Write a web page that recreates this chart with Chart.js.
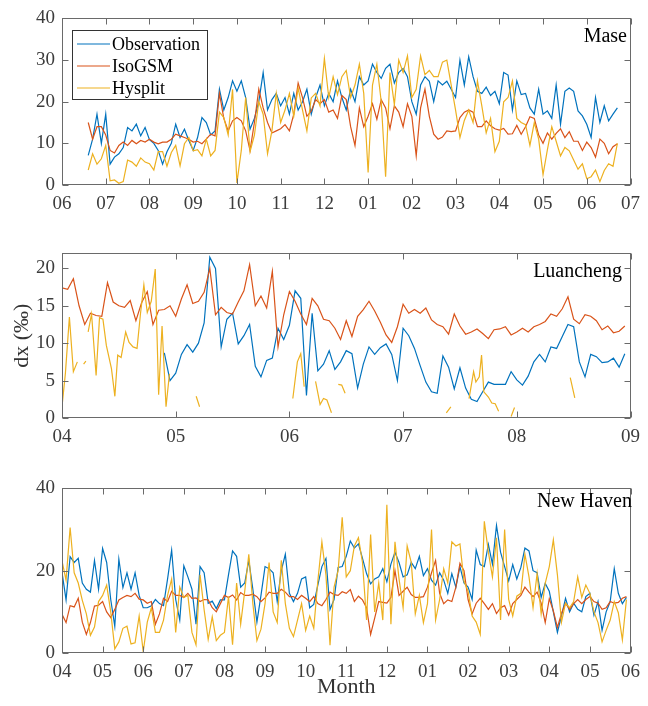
<!DOCTYPE html>
<html>
<head>
<meta charset="utf-8">
<script src="https://cdn.jsdelivr.net/npm/chart.js@4.4.0/dist/chart.umd.min.js"></script>
<style>
  body { margin: 0; background: #fff; }
  #wrap { position: relative; width: 648px; height: 706px; }
  canvas { position: absolute; left: 0; }
</style>
</head>
<body>
<div id="wrap">
  <canvas id="mase" width="648" height="230" style="top:0px"></canvas>
  <canvas id="luan" width="648" height="215" style="top:235px"></canvas>
  <canvas id="newhaven" width="648" height="236" style="top:470px"></canvas>
</div>
<script>
// Mase: one value every ~3 days (0.1 month), starting mid-June
const maseMonths = ['06','07','08','09','10','11','12','01','02','03','04','05','06','07'];
const maseStart = 0.6;
const maseObs = [
  7.1, 11, 17, 10, 17, 5, 6.7, 7.5, 9, 13.8,
  13, 14.6, 11.8, 13.8, 10.9, 10, 8.3, 5, 8, 10,
  14.6, 11.4, 13.4, 10.7, 8.3, 11.4, 16.2, 15, 12, 13,
  23, 18, 21, 25, 22.5, 25, 21, 13.4, 16, 20,
  27, 18, 20.5, 22, 19, 21, 17, 22, 18, 20,
  23, 17, 21, 24, 19, 22, 20, 25, 21, 18,
  23, 20, 26, 24, 25, 29, 27, 25.6, 28, 29,
  24.5, 27, 28, 26, 20, 17, 24, 26, 24.9, 20,
  25, 24, 24.9, 23, 21, 30, 24, 30.8, 26, 22.5,
  22, 23.5, 21.5, 22.5, 19.5, 27, 26.4, 18, 25, 21.7,
  22, 18.5, 17, 23, 17, 17.8, 16, 24, 14.6, 22.5,
  23.3, 22.5, 17.8, 16.6, 14.6, 11.4, 21, 15, 19, 15.4,
  17, 18.5
];
const maseIso = [
  15, 11, 14, 14, 12, 8.3, 7.7, 9.5, 10.3, 9.5,
  10.7, 9.9, 10.7, 10.3, 11, 10.3, 9.9, 10.3, 10.3, 11,
  12.2, 11.8, 11.4, 11, 10.3, 10.5, 9.9, 11, 12.2, 11.8,
  22, 16, 13, 15.4, 16.2, 15.4, 13, 8.3, 15, 23,
  18.5, 15, 12.5, 13, 13.5, 14.5, 13, 17, 24.5, 21,
  16.5, 17.8, 20.5, 19.5, 20.5, 17.5, 18, 16, 21.5, 20.5,
  14, 9.5, 18.5, 14, 16.5, 19.5, 15.8, 20.5, 18.5, 13.5,
  19, 17.5, 14, 19.5, 16.5, 7, 18.5, 23, 16.5, 12.2,
  11, 11.5, 13, 12.8, 13, 16.2, 17.5, 18, 17.5, 14,
  14, 15.4, 14.2, 13.5, 13.2, 13.6, 12.2, 12.3, 14.3, 12.2,
  14, 16.4, 16, 12, 10, 12.5, 11, 12.4, 13.5, 11.4,
  12.8, 10.5, 10.5, 8.3, 10.3, 9, 6.7, 11, 10, 7.5,
  9.2, 9.9
];
const maseHys = [
  3.6, 7.5, 5, 6.3, 9.5, 1, 1.2, 0.4, 0.8, 6,
  5.5, 4.5, 6.5, 5.5, 5.1, 3.6, 8, 8, 4.5, 7.8,
  9.5, 4.6, 9.9, 11.4, 8.2, 8.5, 7, 11, 7, 8.3,
  17.5, 16.2, 12, 23, 0.5, 8.3, 21, 8, 12, 20,
  17, 7.5, 13, 22, 15, 18, 22, 16.5, 23.3, 18,
  13, 20.9, 22, 19, 30.4, 21, 26, 21.7, 26, 27.5,
  21, 24, 29, 22, 3, 24, 29, 20, 2, 27,
  19.3, 30, 27, 31, 21, 23, 31, 26.5, 27.5, 26,
  26, 29.5, 30, 24, 18, 11.4, 15.5, 18, 15, 25,
  19, 12.5, 16, 8, 10.5, 20, 21, 25, 16, 15,
  14.5, 9.5, 15, 11, 2.5, 8.5, 14, 10.5, 7, 9,
  8.2, 6, 3.8, 5.1, 1.5, 2, 3.6, 0.8, 3.5, 5.1,
  4.5, 10
];

// Luancheng: one value every 0.05 month from 1 April
const lcMonths = ['04','05','06','07','08','09'];
const lcIso = [
  17.4, 17.2, 18.6, 15, 12.5, 14, 13.7, 13.6, 18.1, 15.5,
  15, 14.8, 15.7, 13, 15.4, 16.9, 12.5, 14.4, 14.5, 15,
  13.6, 15.9, 17.8, 15.3, 15.6, 16.8, 20, 13.8, 14.8, 14.1,
  13.9, 15.5, 17, 20.5, 15, 16.3, 14.7, 19.6, 9.5, 13.8,
  16.9, 15.6, 13.9, 12.5, 16, 15, 13.2, 13, 12, 10.5,
  13, 10.9, 13.6, 14.5, 15.6, 14.3, 12.8, 11.1, 10.1, 12.2,
  15.2, 14, 14.5, 14, 14.7, 13.1, 12.5, 12.2, 11.2, 13.9,
  12.3, 11.2, 11.5, 11.9, 11.3, 10.6, 11.8, 11.9, 12.2, 11.1,
  11.5, 12, 11.5, 12.2, 12.5, 12.9, 13.9, 13.6, 14.6, 16.2,
  13.2, 12.6, 13.8, 13.6, 13, 11.8, 12.3, 11.4, 11.6, 12.3
];
const lcObsStart = 0.9;
const lcObs = [
  8.7, 5, 6, 8.5, 9.8, 8.8, 10, 12.7, 21.5, 20,
  9.5, 13.2, 14, 9.9, 11, 12.5, 6.9, 5.5, 7.7, 8,
  12, 10.5, 12.4, 17, 16, 3, 14, 6.3, 7.2, 9,
  6.5, 7.5, 9, 8.6, 4, 7.2, 9.5, 8.5, 9.4, 9.9,
  8.5, 5, 12, 11, 9.3, 7, 4.8, 3.5, 3.3, 8.3,
  6.8, 3.9, 6.7, 4, 2.5, 2.2, 3.5, 4.8, 4.5, 4.5,
  4.5, 6.2, 5.1, 4.4, 5.6, 7.5, 8.5, 7.5, 9.5, 9.3,
  10.9, 12.5, 12.2, 7.5, 5.5, 8.5, 8.2, 7.4, 7.5, 8,
  6.8, 8.6
];
// Hysplit has gaps (null) in Luancheng
const lcHysAt = [
  0, 0.03, 0.065, 0.1, 0.135, 0.16, 0.19, 0.21, 0.22, 0.23,
  0.26, 0.30, 0.33, 0.36, 0.39, 0.435, 0.465, 0.49, 0.52, 0.56,
  0.59, 0.625, 0.66, 0.69, 0.72, 0.75, 0.785, 0.82, 0.85, 0.88,
  0.915, 0.945, 1.0, 1.18, 1.21, 1.5, 2.03, 2.07, 2.10, 2.13,
  2.18, 2.23, 2.27, 2.30, 2.33, 2.37, 2.40, 2.43, 2.46, 2.49,
  3.0, 3.38, 3.42, 3.5, 3.58, 3.62, 3.64, 3.67, 3.69, 3.71,
  3.75, 3.78, 3.81, 3.84, 3.9, 3.95, 3.98, 4.2, 4.47, 4.51
];
const lcHys = [
  1.5, 6, 13.5, 6.2, 7.5, null, 7.2, 7.6, null, 11.5,
  13.9, 5.7, 13.4, 13.2, 9.7, 6.6, 2.9, 8.4, 8.1, 11.5,
  10.1, 9.5, 9.3, 13.9, 17.8, 14.1, 15.6, 19.9, 3.1, 12.3,
  1.5, 5.9, null, 2.9, 1.5, null, 2.6, 7.5, 8.6, 4.2,
  null, 4.9, 1.8, 2.6, 2.4, 0.7, null, 4.5, 4.4, 3.3,
  null, 0.7, 1.5, null, 2.6, 6.2, 4.8, 5.5, 8.4, 3.5,
  2.8, 2, 1.9, 0.9, null, 0.2, 1.4, null, 5.4, 2.7
];

// New Haven: one value every 0.1 month from 1 April
const nhMonths = ['04','05','06','07','08','09','10','11','12','01','02','03','04','05','06'];
const nhObs = [
  19.6, 12.9, 23.4, 22, 23, 17, 15.5, 14.8, 22.5, 15.5,
  25.4, 22, 13, 6.5, 22.8, 15.9, 19.5, 15.5, 19.5, 14,
  11, 11, 11.5, 13, 12, 11.5, 18, 25, 13, 8,
  21.2, 18.5, 15.5, 7, 21, 19.5, 12.1, 12.6, 10.8, 12.9,
  12.9, 19, 24.8, 23.5, 16, 17, 22.5, 15.5, 7.5, 14,
  21, 20.5, 19.5, 12.5, 20, 24, 14.5, 12.5, 14.5, 18,
  18.5, 11, 11.8, 16.5, 21, 23, 10.6, 13, 20.8, 21,
  23.5, 27.2, 25.5, 26.5, 23, 19.3, 16.8, 18, 18.5, 20.5,
  17.3, 21.6, 24.5, 22, 18.5, 19, 22, 20.5, 23.5, 18.8,
  20.5, 17.7, 16.5, 19.5, 17.7, 14.5, 19.3, 16, 21, 17,
  16, 13, 25, 21.5, 21, 26.4, 21.6, 31, 24.5, 21,
  17.5, 21.5, 18, 20.8, 25.5, 24.8, 20, 19.5, 13.5, 16.9,
  15, 10, 5, 9, 13.3, 10, 12.1, 10.6, 10, 13.7,
  14.5, 9.2, 12.5, 5.5, 10, 12.5, 20.5, 14.5, 12, 13.5
];
const nhIso = [
  9.4, 7.4, 11.5, 11.2, 13.3, 7.5, 4.5, 7.4, 11.4, 11.6,
  12.5, 10, 8.6, 10.6, 12.9, 13.5, 14, 13.7, 14.5, 13.1,
  12.9, 12.1, 12.5, 7, 9.5, 13.3, 12.5, 15, 14, 14,
  13.5, 14.5, 13.3, 13.4, 12.5, 13, 12.9, 11, 10, 12,
  14, 13.5, 14.1, 12.9, 14.7, 14, 14, 14.3, 13.7, 12.5,
  13.4, 14.8, 14.5, 14.5, 15.5, 14.8, 13.7, 13.7, 13, 14,
  13.3, 12.5, 13.7, 12, 11.5, 13, 14.8, 14.2, 14, 14.9,
  14.5, 15.4, 12.5, 13.8, 12.9, 11, 4.5, 8.5, 12.5, 12.3,
  12.1, 13.5, 20, 14, 15, 16, 14.2, 13.5, 13.5, 13.7,
  16, 19.5, 22.5, 14.5, 12, 12.9, 12.5, 16, 21.8, 20,
  13, 9.5, 12.1, 13.3, 12, 10.6, 12, 9.6, 11, 11.5,
  9.2, 12, 13, 14, 16, 14.8, 13.7, 14.8, 12.1, 7.4,
  13.2, 10.2, 6.2, 9.6, 12.1, 10.6, 12, 13, 12, 13,
  13.7, 12.5, 12.1, 10.6, 11, 12.5, 12.1, 12.3, 13.3, 13.7
];
const nhHys = [
  22.4, 17.7, 30.5, 19.5, 17, 12.8, 9.5, 4.3, 6.3, 12.5,
  14, 16.5, 10, 1, 2.7, 6, 6.5, 2.2, 2.5, 9,
  0.3, 7.5, 11, 5, 5, 8, 14, 18, 5, 16,
  13.5, 14, 5, 2, 19, 10.5, 3.3, 8.8, 3, 4.3,
  5, 13.7, 2, 17, 7, 15, 24, 12, 3, 5.8,
  12, 22, 10, 7.4, 22.5, 12, 6, 4, 8, 12,
  5.5, 9, 6, 17.5, 27, 19, 1.9, 16, 20, 33,
  18.5, 20, 26, 28, 22, 8, 28.8, 10, 17, 8,
  36, 7, 27, 18, 11, 26, 22, 9.5, 14, 7.4,
  12, 30, 8, 13, 20.5, 17, 27, 26, 26.5, 17.5,
  15, 9, 7.5, 4.5, 32, 24.5, 18.5, 28, 8, 30,
  13, 9, 13.8, 14.5, 24, 18.5, 11, 19.3, 9.5, 16.9,
  21, 27.5, 19, 7.5, 12.1, 11, 12.5, 18.5, 13.5, 16.5,
  14.5, 10, 7.4, 2.7, 5.5, 8, 12.5, 9.8, 3.2, 13
];

const FONT = '"Liberation Serif", "Times New Roman", serif';
const OBS_COLOR = '#0072BD';
const ISO_COLOR = '#D95319';
const HYS_COLOR = '#EDB120';
const AXIS_COLOR = '#6a6a6a';

function regular(start, step, values) {
  return values.map((v, i) => ({ x: start + i * step, y: v }));
}
function paired(at, values) {
  return at.map((m, i) => ({ x: m, y: values[i] }));
}
function line(label, color, data, order) {
  return { label: label, data: data, borderColor: color, backgroundColor: color,
           borderWidth: 1.2, pointRadius: 0, tension: 0, order: order };
}

// box around the axes, inward ticks, station name and the framed legend
const frame = {
  id: 'frame',
  afterDatasetsDraw(chart, args, opts) {
    const { ctx, chartArea: a, scales } = chart;
    const x = scales.x, y = scales.y;
    const L = Math.round(a.left) + 0.5, R = Math.round(a.right) - 0.5;
    const T = Math.round(a.top) + 0.5, B = Math.round(a.bottom) - 0.5;
    ctx.save();
    ctx.strokeStyle = AXIS_COLOR;
    ctx.lineWidth = 1;
    ctx.beginPath();
    x.ticks.forEach(t => {
      const p = Math.round(x.getPixelForValue(t.value)) + 0.5;
      ctx.moveTo(p, B); ctx.lineTo(p, B - 6);
      ctx.moveTo(p, T); ctx.lineTo(p, T + 6);
    });
    y.ticks.forEach(t => {
      const p = Math.round(y.getPixelForValue(t.value)) + 0.5;
      ctx.moveTo(L, p); ctx.lineTo(L + 6, p);
      ctx.moveTo(R, p); ctx.lineTo(R - 6, p);
    });
    ctx.stroke();
    ctx.strokeRect(L, T, R - L, B - T);

    ctx.fillStyle = '#000';
    ctx.font = '20px ' + FONT;
    ctx.textAlign = 'right';
    ctx.textBaseline = 'middle';
    ctx.fillText(opts.station, opts.sx, opts.sy);

    if (opts.legend) {
      const bx = 72.5, by = 30.5, bw = 135, bh = 69;
      ctx.fillStyle = '#fff';
      ctx.fillRect(bx, by, bw, bh);
      ctx.strokeStyle = '#333';
      ctx.strokeRect(bx, by, bw, bh);
      ctx.font = '18px ' + FONT;
      ctx.textAlign = 'left';
      chart.data.datasets.forEach((ds, i) => {
        const yy = 44 + i * 22;
        ctx.strokeStyle = ds.borderColor;
        ctx.lineWidth = 1.2;
        ctx.beginPath();
        ctx.moveTo(77, yy); ctx.lineTo(110, yy);
        ctx.stroke();
        ctx.fillStyle = '#000';
        ctx.fillText(ds.label, 112, yy + 1);
      });
    }
    ctx.restore();
  }
};

function makePanel(id, cfg) {
  const canvasH = document.getElementById(id).height;
  return new Chart(document.getElementById(id), {
    type: 'line',
    data: { datasets: cfg.datasets },
    plugins: [frame],
    options: {
      responsive: false,
      animation: false,
      devicePixelRatio: 1,
      layout: { padding: { left: 0, right: 648 - cfg.right, top: cfg.top, bottom: 0 } },
      plugins: {
        legend: { display: false },
        tooltip: { enabled: false },
        frame: { station: cfg.station, sx: cfg.sx, sy: cfg.sy, legend: !!cfg.legend }
      },
      scales: {
        x: {
          type: 'linear',
          min: 0,
          max: cfg.months.length - 1,
          grid: { display: false, drawTicks: false },
          border: { display: false },
          ticks: {
            stepSize: 1, autoSkip: false, maxRotation: 0, padding: 8,
            color: '#3c3c3c', font: { family: FONT, size: 19 },
            callback: v => cfg.months[Math.round(v)] || ''
          },
          title: cfg.xTitle ? { display: true, text: cfg.xTitle, color: '#333',
                                font: { family: FONT, size: 22 }, padding: { top: 0, bottom: 6 } }
                            : { display: false },
          afterFit: s => { s.height = canvasH - cfg.bottom; }
        },
        y: {
          min: 0,
          max: cfg.yMax,
          grid: { display: false, drawTicks: false },
          border: { display: false },
          ticks: {
            stepSize: cfg.yStep, includeBounds: false, padding: 7,
            color: '#3c3c3c', font: { family: FONT, size: 19 }
          },
          title: cfg.yTitle ? { display: true, text: cfg.yTitle, color: '#333',
                                font: { family: FONT, size: 22 }, padding: { top: 9, bottom: 0 } }
                            : { display: false },
          afterFit: s => { s.width = 62; }
        }
      }
    }
  });
}

makePanel('mase', {
  top: 16, bottom: 185, right: 636, yMax: 40, yStep: 10,
  months: maseMonths, station: 'Mase', sx: 627, sy: 37, legend: true,
  datasets: [
    line('Observation', OBS_COLOR, regular(maseStart, 0.1, maseObs), 3),
    line('IsoGSM', ISO_COLOR, regular(maseStart, 0.1, maseIso), 2),
    line('Hysplit', HYS_COLOR, regular(maseStart, 0.1, maseHys), 1)
  ]
});

makePanel('luan', {
  top: 17, bottom: 183, right: 633, yMax: 22, yStep: 5,
  months: lcMonths, station: 'Luancheng', sx: 622, sy: 37, yTitle: 'dx (‰)',
  datasets: [
    line('Observation', OBS_COLOR, regular(lcObsStart, 0.05, lcObs), 3),
    line('IsoGSM', ISO_COLOR, regular(0, 0.05, lcIso), 2),
    line('Hysplit', HYS_COLOR, paired(lcHysAt, lcHys), 1)
  ]
});

makePanel('newhaven', {
  top: 14, bottom: 183, right: 636, yMax: 40, yStep: 20,
  months: nhMonths, station: 'New Haven', sx: 632, sy: 32, xTitle: 'Month',
  datasets: [
    line('Observation', OBS_COLOR, regular(0, 0.1, nhObs), 3),
    line('IsoGSM', ISO_COLOR, regular(0, 0.1, nhIso), 2),
    line('Hysplit', HYS_COLOR, regular(0, 0.1, nhHys), 1)
  ]
});
</script>
</body>
</html>
